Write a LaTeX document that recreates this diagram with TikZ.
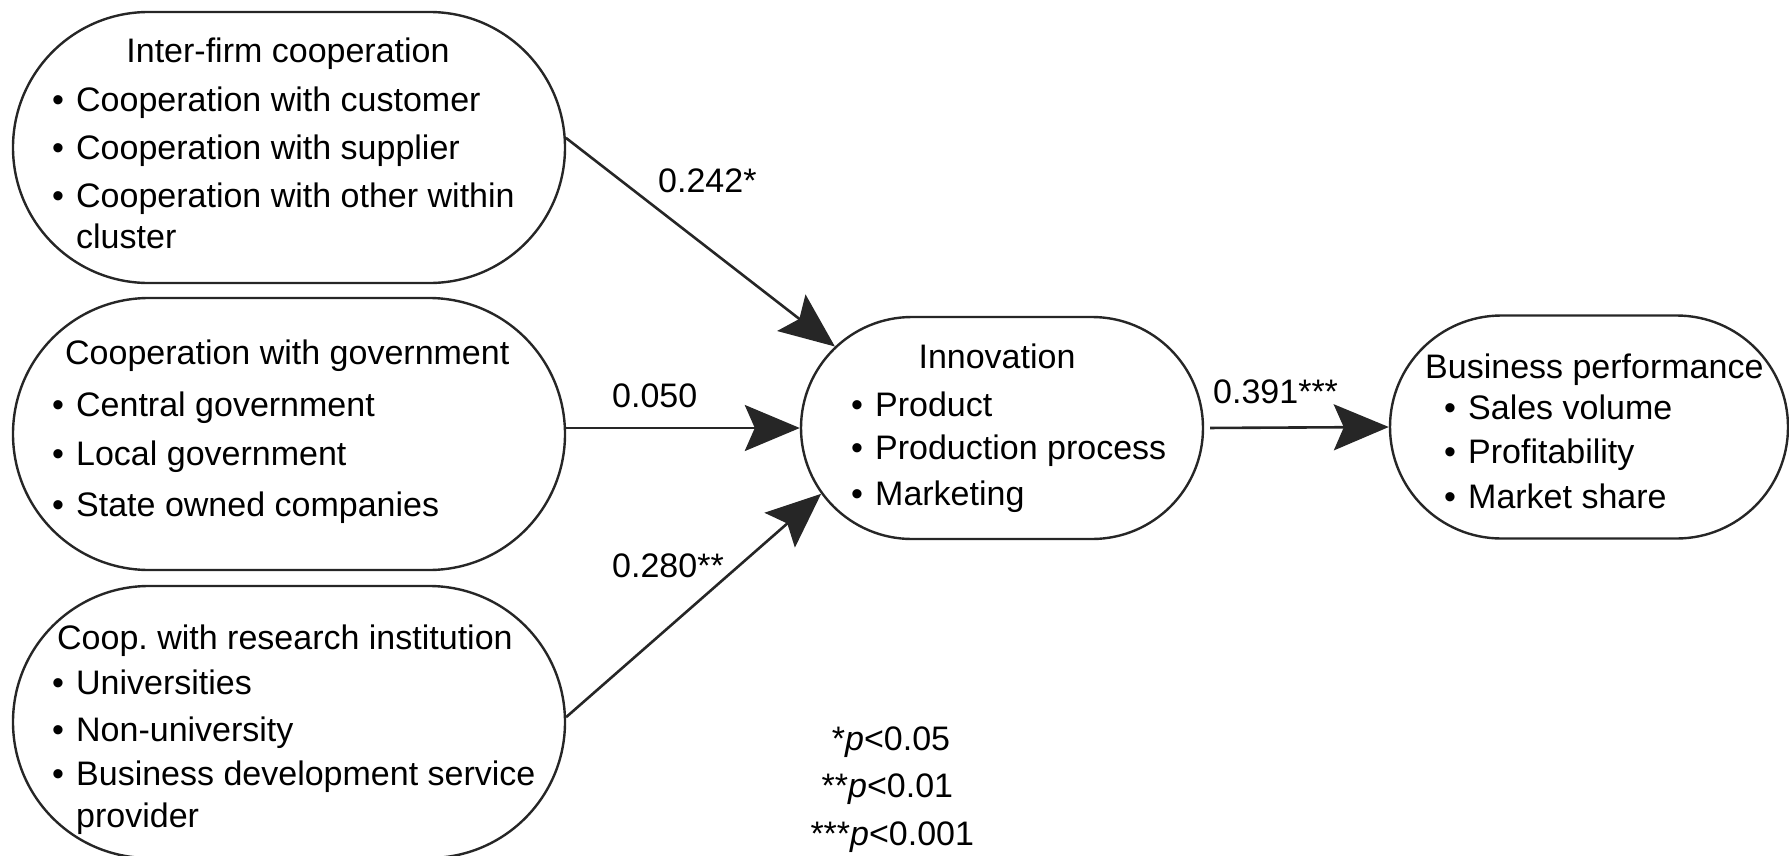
\documentclass[tikz,border=0pt]{standalone}
\usepackage{fontspec}
\setmainfont{Liberation Sans}
\usetikzlibrary{arrows.meta,shapes.misc}
\frenchspacing

% bullet with a fixed advance so that item texts line up
\newcommand\blt{\makebox[24bp][l]{•}}

\begin{document}
\begin{tikzpicture}[x=1bp,y=-1bp,
  every node/.style={font=\fontsize{34bp}{40bp}\selectfont},
  construct/.style={draw=black!85, line width=2.4bp, rounded rectangle, inner sep=0pt},
  txt/.style={inner sep=0pt, anchor=base west},
  ttl/.style={inner sep=0pt, anchor=base},
  link/.style={draw=black!85, line width=2.6bp,
    -{Stealth[length=55bp,width=46bp,inset=10bp]}}]

\useasboundingbox (0,0) rectangle (1789,856);

% constructs
\node[construct, minimum width=552bp, minimum height=271bp] (coopfirm) at (289,147.5) {};
\node[construct, minimum width=552bp, minimum height=272bp] (coopgov)  at (289,434) {};
\node[construct, minimum width=552bp, minimum height=272bp] (coopres)  at (289,722) {};
\node[construct, minimum width=402bp, minimum height=222bp] (innov)    at (1002,428) {};
\node[construct, minimum width=398bp, minimum height=223bp] (perf)     at (1589,427) {};

% inter-firm cooperation
\node[ttl] (firmT) at (288,62) {Inter-firm cooperation};
\node[txt] (firmA) at (52,111) {\blt Cooperation with customer};
\node[txt] (firmB) at (52,159) {\blt Cooperation with supplier};
\node[txt] (firmC) at (52,207) {\blt Cooperation with other within};
\node[txt] (firmD) at (76,248) {cluster};

% cooperation with government
\node[txt] (govT) at (65,364) {Cooperation with government};
\node[txt] (govA) at (52,416) {\blt Central government};
\node[txt] (govB) at (52,465) {\blt Local government};
\node[txt] (govC) at (52,516) {\blt State owned companies};

% cooperation with research institutions
\node[txt] (resT) at (57,649) {Coop.\ with research institution};
\node[txt] (resA) at (52,694) {\blt Universities};
\node[txt] (resB) at (52,741) {\blt Non-university};
\node[txt] (resC) at (52,785) {\blt Business development service};
\node[txt] (resD) at (76,827) {provider};

% innovation
\node[ttl] (innT) at (997,368) {Innovation};
\node[txt] (innA) at (851,416) {\blt Product};
\node[txt] (innB) at (851,459) {\blt Production process};
\node[txt] (innC) at (851,505) {\blt Marketing};

% business performance
\node[txt] (perfT) at (1425,378) {Business performance};
\node[txt] (perfA) at (1444,419) {\blt Sales volume};
\node[txt] (perfB) at (1444,463) {\blt Profitability};
\node[txt] (perfC) at (1444,508) {\blt Market share};

% paths
\draw[link] (coopfirm.2) -- (innov.154);
\draw[link] (coopgov.east |- innov.west) -- (innov.west);
\draw[link] (coopres.1.5) -- (innov.200);
\draw[link, shorten <=6bp] (innov.east) -- (perf.west);

% path coefficients
\node[txt] (c1) at (658,192) {0.242*};
\node[txt] (c2) at (612,407) {0.050};
\node[txt] (c3) at (612,577) {0.280**};
\node[txt] (c4) at (1213,403) {0.391***};

% significance levels
\node[txt] (s1) at (845,750) {\llap{*}\textit{p}<0.05};
\node[txt] (s2) at (848,797) {\llap{**}\textit{p}<0.01};
\node[txt] (s3) at (850,845) {\llap{***}\textit{p}<0.001};
\end{tikzpicture}
\end{document}
